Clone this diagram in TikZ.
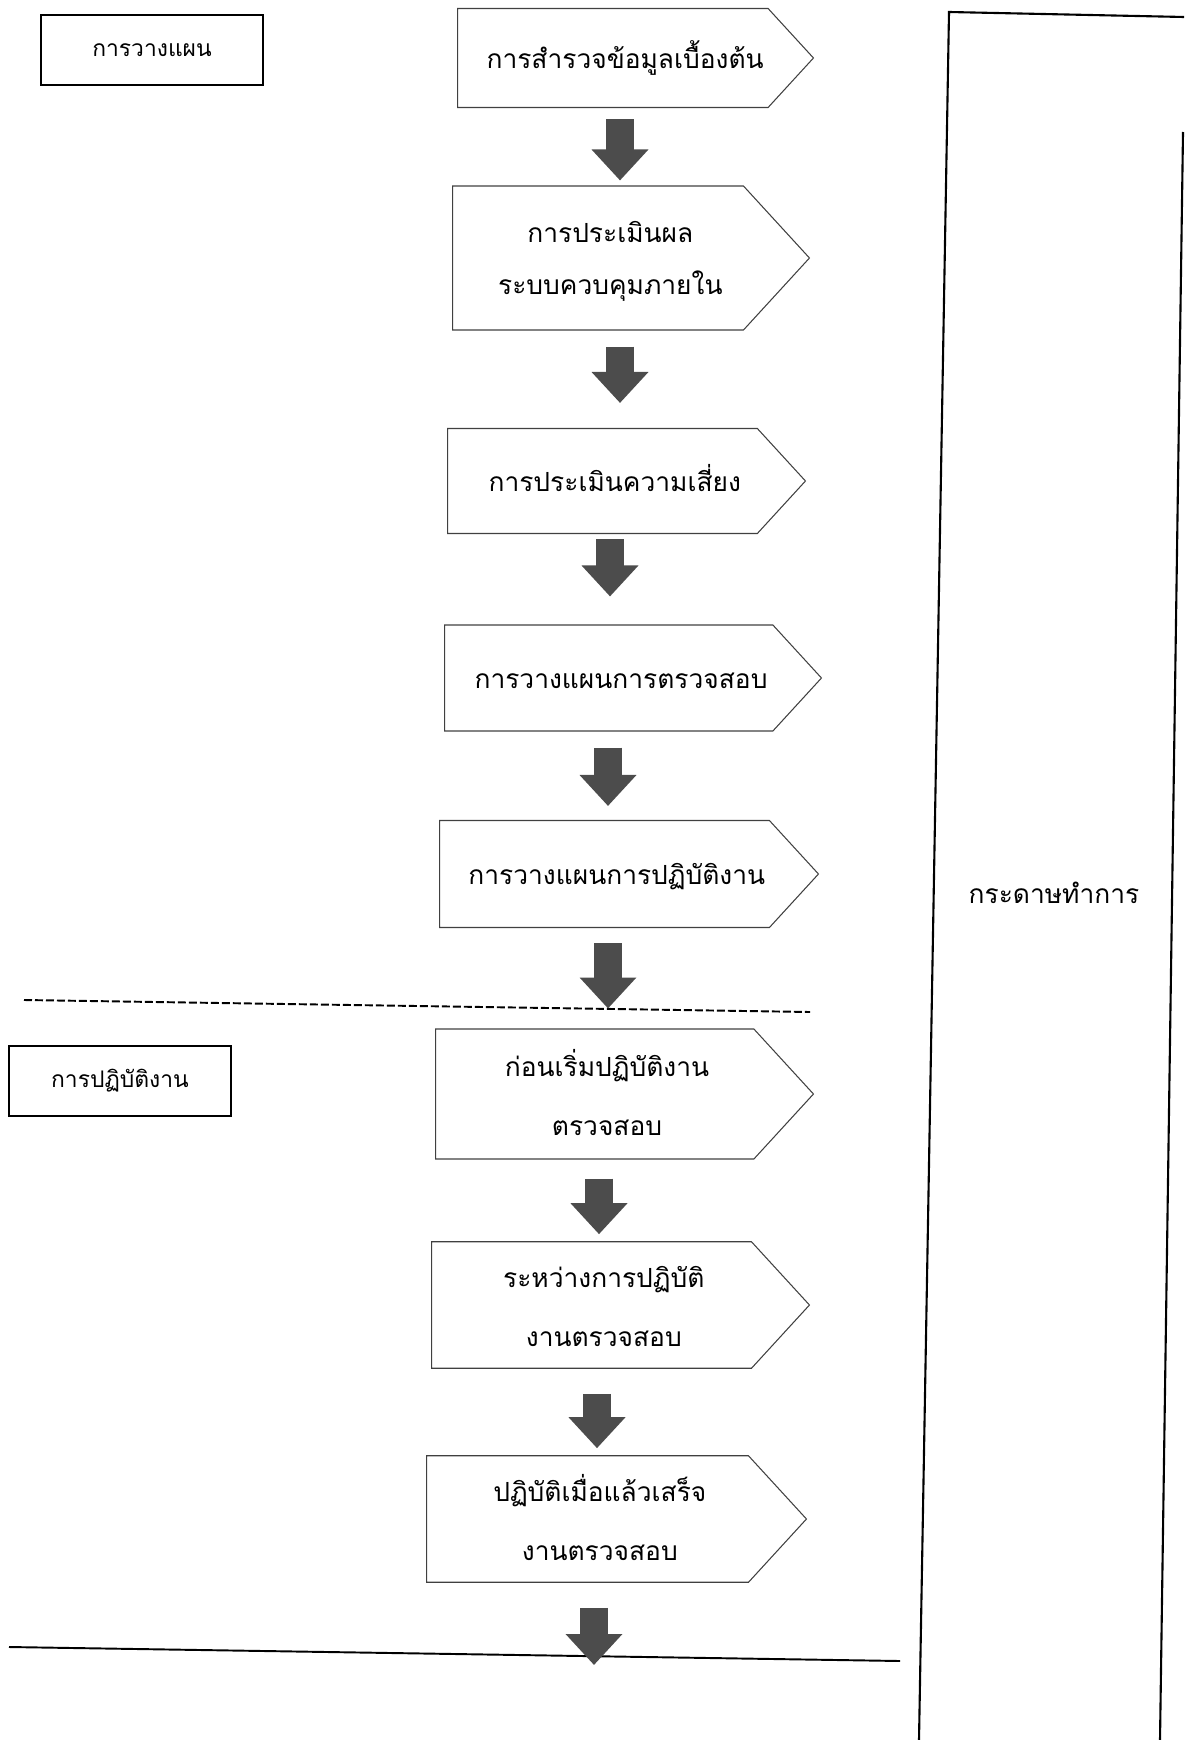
\documentclass[tikz,border=0pt]{standalone}
\usepackage{fontspec}
\newfontfamily\thaifont[Script=Thai]{Loma}
\usetikzlibrary{shapes.symbols,arrows.meta}

% text of a step, set a little right of the body centre
\newcommand{\steptext}[1]{\hspace*{14pt}\begin{tabular}{@{}c@{}}#1\end{tabular}}

\tikzset{
  stepbox/.style={draw=black!75, line width=0.6pt, shape=signal, signal to=east,
    signal pointer angle=95, inner sep=2pt, anchor=west,
    font=\thaifont\fontsize{15}{31}\selectfont},
  widelines/.style={font=\thaifont\fontsize{15}{34}\selectfont},
  phasebox/.style={draw, line width=1.1pt, minimum width=4.44cm, minimum height=1.39cm,
    font=\thaifont\fontsize{13}{16}\selectfont},
  fatarrow/.style={line width=0.56cm, draw=black!70, -{Triangle[width=1.1cm,length=0.62cm]}},
}

\begin{document}
\begin{tikzpicture}[x=0.02cm, y=-0.02cm]
    \useasboundingbox (0,0) rectangle (1184,1740);

    % Phases
    \node[phasebox] (plan) at (152,50) {การวางแผน};
    \node[phasebox] (work) at (120,1081) {การปฏิบัติงาน};

    % Steps
    \node[stepbox, minimum width=7.12cm, minimum height=1.98cm] (s1) at (457,58) {\steptext{การสำรวจข้อมูลเบื้องต้น}};
    \node[stepbox, minimum width=7.14cm, minimum height=2.88cm, font=\thaifont\fontsize{15}{29.5}\selectfont] (s2) at (452,258) {\steptext{การประเมินผล\\ระบบควบคุมภายใน}};
    \node[stepbox, minimum width=7.16cm, minimum height=2.10cm] (s3) at (447,481) {\steptext{การประเมินความเสี่ยง}};
    \node[stepbox, minimum width=7.54cm, minimum height=2.12cm] (s4) at (444,678) {\steptext{การวางแผนการตรวจสอบ}};
    \node[stepbox, minimum width=7.58cm, minimum height=2.14cm] (s5) at (439,874) {\steptext{การวางแผนการปฏิบัติงาน}};
    \node[stepbox, widelines, minimum width=7.56cm, minimum height=2.60cm] (s6) at (435,1094) {\steptext{ก่อนเริ่มปฏิบัติงาน\\ตรวจสอบ}};
    \node[stepbox, widelines, minimum width=7.56cm, minimum height=2.50cm] (s7) at (431,1305) {\steptext{ระหว่างการปฏิบัติ\\งานตรวจสอบ}};
    \node[stepbox, widelines, minimum width=7.60cm, minimum height=2.50cm] (s8) at (426,1519) {\steptext{ปฏิบัติเมื่อแล้วเสร็จ\\งานตรวจสอบ}};

    % Separators
    \draw[line width=1.1pt, dash pattern=on 0.16cm off 0.06cm] (24,1000) -- (810,1012);
    \draw[line width=1.1pt] (9,1647) -- (900,1661);

    % Working papers
    \draw[line width=1.2pt] (1184,17) -- (949,12) -- (919,1740);
    \draw[line width=1.2pt] (1183,132) -- (1160,1740);
    \node[font=\thaifont\fontsize{15}{18}\selectfont] (paper) at (1054,893) {กระดาษทำการ};

    % Arrows
    \foreach \a/\b/\x/\s/\e in {s1/s2/620/11/5, s2/s3/620/16/25, s3/s4/610/5/28, s4/s5/608/16/14,
        s5/s6/608/15/20, s6/s7/599/19/7, s7/s8/597/25/7}
        \draw[fatarrow, shorten <=\s*0.02cm, shorten >=\e*0.02cm] (\a.south -| \x,0) -- (\b.north -| \x,0);
    \coordinate (end8) at (594,1665);
    \draw[fatarrow, shorten <=25*0.02cm] (s8.south -| end8) -- (end8);
\end{tikzpicture}
\end{document}
